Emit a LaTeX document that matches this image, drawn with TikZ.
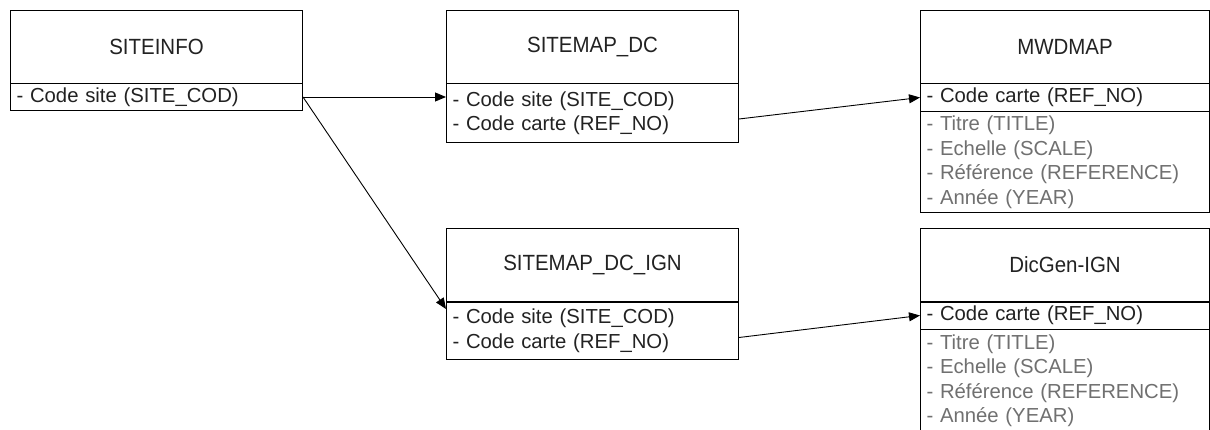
\documentclass[tikz,border=0pt]{standalone}
\usepackage{fontspec}
\usepackage{graphicx}
\setmainfont{Liberation Sans}
\usetikzlibrary{arrows.meta}
\definecolor{txt}{HTML}{222222}
\definecolor{ttl}{HTML}{222222}
\definecolor{greytxt}{HTML}{707070}
\newcommand{\boxtitle}[1]{\scalebox{0.93}[1.0]{#1}}
\tikzset{
  boxline/.style={draw=black, line width=1pt, inner sep=0pt},
  titlebox/.style={boxline, rectangle, anchor=north west, text=ttl,
    font=\fontsize{22}{26}\selectfont},
  attrbox/.style={boxline, rectangle, anchor=north west, align=left, text=txt,
    inner xsep=6pt, inner ysep=0pt,
    font=\fontsize{20.3}{24.5}\selectfont},
  greybox/.style={attrbox, text=greytxt},
  thickdiv/.style={line width=2.6pt, line cap=butt},
  link/.style={draw=black, line width=0.9pt, -{Triangle[length=11pt,width=9pt]}}
}
\begin{document}
\begin{tikzpicture}[x=1pt,y=-1pt]
\useasboundingbox (0,0) rectangle (1210,430);
\clip (0,0) rectangle (1210,430);
\fill[white] (0,0) rectangle (1210,430);

% SITEINFO
\node[titlebox, minimum width=292pt, minimum height=73pt] (siT) at (10,10) {\boxtitle{SITEINFO}};
\node[attrbox, text width=280pt, minimum height=27pt] (siA) at (10,83) {- Code site (SITE\_COD)};

% SITEMAP_DC
\node[titlebox, minimum width=292pt, minimum height=73pt] (dcT) at (446,10) {\boxtitle{SITEMAP\_DC}};
\node[attrbox, text width=280pt, minimum height=59pt] (dcA) at (446,83) {- Code site (SITE\_COD)\\- Code carte (REF\_NO)};

% MWDMAP
\node[titlebox, minimum width=289pt, minimum height=73pt] (mwT) at (920,10) {\boxtitle{MWDMAP}};
\node[attrbox, text width=277pt, minimum height=28pt] (mwK) at (920,83) {- Code carte (REF\_NO)};
\node[greybox, text width=277pt, minimum height=101pt] (mwR) at (920,111) {- Titre (TITLE)\\- Echelle (SCALE)\\- Référence (REFERENCE)\\- Année (YEAR)};

% SITEMAP_DC_IGN
\node[titlebox, minimum width=292pt, minimum height=73pt] (igT) at (446,228) {\boxtitle{SITEMAP\_DC\_IGN}};
\node[attrbox, text width=280pt, minimum height=58pt] (igA) at (446,301) {- Code site (SITE\_COD)\\- Code carte (REF\_NO)};
\draw[thickdiv] (igT.south west) -- (igT.south east);

% DicGen-IGN
\node[titlebox, minimum width=289pt, minimum height=73pt] (dgT) at (920,228) {\boxtitle{DicGen-IGN}};
\node[attrbox, text width=277pt, minimum height=28pt] (dgK) at (920,301) {- Code carte (REF\_NO)};
\node[greybox, text width=277pt, minimum height=102pt] (dgR) at (920,329) {- Titre (TITLE)\\- Echelle (SCALE)\\- Référence (REFERENCE)\\- Année (YEAR)};
\draw[thickdiv] (dgT.south west) -- (dgT.south east);

% connectors
\draw[link] (siA.east) -- (siA.east -| dcA.west);
\draw[link] (siA.east) -- ([yshift=-8pt]igA.north west);
\draw[link] ([yshift=-6pt]dcA.east) -- (mwK.west);
\draw[link] ([yshift=-7pt]igA.east) -- (dgK.west);
\end{tikzpicture}
\end{document}
